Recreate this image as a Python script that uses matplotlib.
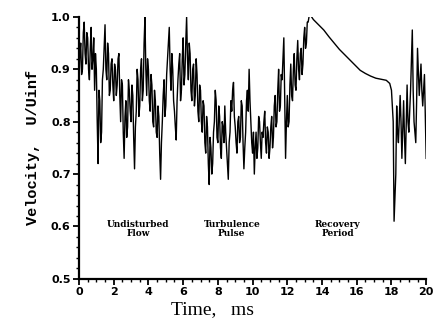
import numpy as np
import matplotlib
matplotlib.use("Agg")
import matplotlib.pyplot as plt
from matplotlib.ticker import MultipleLocator

# noisy part: undisturbed flow + turbulence pulse, 0.0 .. 13.3 ms, 0.05 ms step
v_pulse = [
    0.88, 0.93, 0.95, 0.89, 0.90, 0.97, 0.99, 0.93, 0.91, 0.97,
    0.96, 0.90, 0.88, 0.94, 0.98, 0.90, 0.92, 0.96, 0.86, 0.93,
    0.90, 0.80, 0.72, 0.86, 0.84, 0.76, 0.78, 0.88, 0.90, 0.94,
    0.985, 0.90, 0.88, 0.95, 0.93, 0.85, 0.86, 0.91, 0.92, 0.87,
    0.84, 0.91, 0.90, 0.85, 0.87, 0.92, 0.93, 0.85, 0.80, 0.88,
    0.87, 0.78, 0.73, 0.81, 0.84, 0.77, 0.79, 0.88, 0.86, 0.82,
    0.80, 0.87, 0.85, 0.77, 0.71, 0.79, 0.82, 0.90, 0.88, 0.81,
    0.83, 0.90, 0.92, 0.84, 0.86, 0.95, 1.00, 0.90, 0.85, 0.92,
    0.90, 0.84, 0.82, 0.89, 0.87, 0.80, 0.79, 0.86, 0.84, 0.78,
    0.77, 0.83, 0.81, 0.74, 0.69, 0.76, 0.80, 0.85, 0.88, 0.81,
    0.83, 0.89, 0.92, 0.95, 0.98, 0.90, 0.86, 0.93, 0.90, 0.84,
    0.82, 0.79, 0.765, 0.84, 0.88, 0.91, 0.93, 0.84, 0.86, 0.92,
    0.96, 0.87, 0.89, 0.95, 1.00, 0.92, 0.88, 0.95, 0.93, 0.86,
    0.84, 0.90, 0.91, 0.83, 0.85, 0.92, 0.89, 0.82, 0.80, 0.87,
    0.86, 0.80, 0.78, 0.84, 0.83, 0.76, 0.74, 0.81, 0.79, 0.72,
    0.68, 0.77, 0.75, 0.70, 0.72, 0.78, 0.80, 0.86, 0.84, 0.77,
    0.76, 0.83, 0.81, 0.75, 0.73, 0.80, 0.79, 0.76, 0.83, 0.78,
    0.75, 0.72, 0.69, 0.76, 0.78, 0.84, 0.82, 0.86, 0.875, 0.81,
    0.79, 0.76, 0.74, 0.80, 0.81, 0.76, 0.77, 0.84, 0.83, 0.76,
    0.71, 0.75, 0.78, 0.84, 0.86, 0.82, 0.90, 0.84, 0.80, 0.76,
    0.74, 0.78, 0.70, 0.75, 0.78, 0.73, 0.75, 0.81, 0.80, 0.76,
    0.73, 0.78, 0.77, 0.80, 0.82, 0.76, 0.74, 0.79, 0.78, 0.73,
    0.75, 0.79, 0.81, 0.75, 0.77, 0.83, 0.85, 0.79, 0.80, 0.86,
    0.90, 0.82, 0.83, 0.89, 0.88, 0.92, 0.96, 0.85, 0.73, 0.80,
    0.85, 0.79, 0.80, 0.87, 0.91, 0.85, 0.84, 0.90, 0.93, 0.87,
    0.86, 0.92, 0.955, 0.90, 0.88, 0.93, 0.94, 0.89, 0.91, 0.96,
    0.98, 0.94, 0.95, 0.99, 0.99, 1.00, 1.005,
]
t_pulse = np.round(np.arange(len(v_pulse)) * 0.05, 3)

# smooth recovery
t_rec = [13.5, 13.8, 14.1, 14.4, 14.7, 15.0, 15.3, 15.6, 15.9, 16.2,
         16.5, 16.8, 17.1, 17.4, 17.7, 17.9, 18.0]
v_rec = [0.995, 0.985, 0.975, 0.962, 0.950, 0.938, 0.928, 0.918, 0.908, 0.898,
         0.892, 0.887, 0.883, 0.881, 0.879, 0.873, 0.860]

# second pulse at the end
t_end = [18.1, 18.15, 18.25, 18.3, 18.35, 18.4, 18.5, 18.55, 18.6, 18.7,
         18.75, 18.8, 18.9, 18.95, 19.0, 19.1, 19.2, 19.25, 19.3, 19.4,
         19.45, 19.5, 19.6, 19.7, 19.75, 19.8, 19.9, 20.0]
v_end = [0.80, 0.61, 0.70, 0.83, 0.78, 0.76, 0.85, 0.80, 0.73, 0.84,
         0.77, 0.72, 0.87, 0.80, 0.78, 0.86, 0.975, 0.86, 0.80, 0.76,
         0.84, 0.94, 0.85, 0.91, 0.86, 0.83, 0.89, 0.73]

t = np.concatenate([t_pulse, t_rec, t_end])
v = np.concatenate([v_pulse, v_rec, v_end])

labels = ["Undisturbed\nFlow", "Turbulence\nPulse", "Recovery\nPeriod"]
label_t = [3.4, 8.8, 14.9]
label_v = [0.595, 0.595, 0.595]

fig = plt.figure(figsize=(4.34, 3.25), dpi=100)
ax = fig.add_axes([0.182, 0.142, 0.80, 0.806])
ax.plot(t, v, color="black", lw=1.0)

ax.set_xlim(0, 20)
ax.set_ylim(0.5, 1.0)
ax.xaxis.set_major_locator(MultipleLocator(2))
ax.xaxis.set_minor_locator(MultipleLocator(0.5))
ax.yaxis.set_minor_locator(MultipleLocator(0.02))
ax.set_yticks([0.5, 0.6, 0.7, 0.8, 0.9, 1.0])
ax.set_yticklabels(["0.5", "0.6", "0.7", "0.8", "0.9", "1.0"])

for s in ["top", "right"]:
    ax.spines[s].set_visible(False)
for s in ["left", "bottom"]:
    ax.spines[s].set_linewidth(1.6)

ax.tick_params(which="major", length=4, width=1.3, labelsize=8, pad=2)
ax.tick_params(which="minor", length=2.5, width=1.0)
for lab in ax.get_xticklabels() + ax.get_yticklabels():
    lab.set_fontweight("bold")
    lab.set_family("DejaVu Sans")

ax.set_xlabel("Time,   ms", family="Liberation Serif", fontsize=14, labelpad=1)
ax.xaxis.set_label_coords(0.385, -0.085)
ax.set_ylabel("Velocity,  U/Uinf", family="Liberation Mono", fontweight="bold",
              fontsize=11, labelpad=8)

for txt, x, y in zip(labels, label_t, label_v):
    ax.text(x, y, txt, ha="center", va="center", fontsize=6.5,
            fontweight="bold", family="DejaVu Serif", linespacing=1.0)

fig.savefig("out.png", dpi=100)
